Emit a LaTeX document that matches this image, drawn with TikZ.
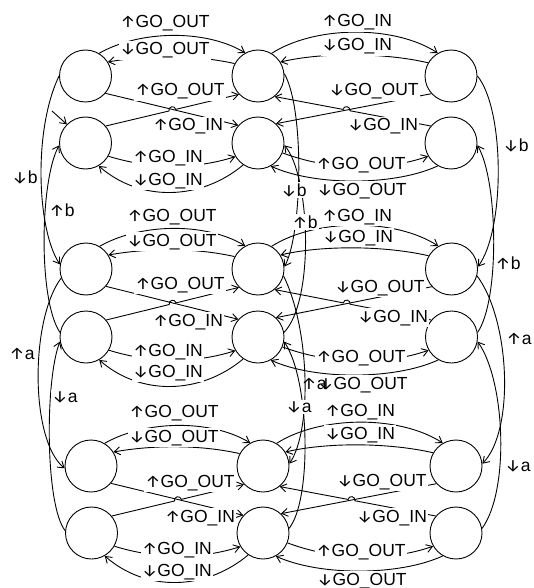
\documentclass[tikz,border=0pt]{standalone}
\usepackage{fontspec}
\setmainfont{Liberation Sans}
\newfontfamily\arrowfont{Fira Sans}
\newcommand\up{{\fontsize{17}{18}\arrowfont ↑}}
\newcommand\dn{{\fontsize{17}{18}\arrowfont ↓}}
\usetikzlibrary{arrows.meta,calc}
\newcommand\grpedges[6]{%
  \draw[arr] (#1.59) .. controls +(40,23) and +(-40,24) .. (#3.119);
  \draw[arr] (#3.152) .. controls +(-40,9) and +(40,7) .. (#1.32);
  \draw[arr] (#1.-41) -- (#4.138);
  \draw[arr] (#2.40) -- ($(#2.40)!0.5!(#3.-136)!3.5pt!(#2.40)$) arc[start angle=193.5,end angle=13.5,radius=3.5pt] -- (#3.-136);
  \draw[arr] (#2.-30) .. controls +(42,-13) and +(-41,-13) .. (#4.-149);
  \draw[arr] (#4.-124) .. controls +(-43,-36) and +(41,-36) .. (#2.-60);
  \draw[arr] (#3.59) .. controls +(44,28) and +(-43,28) .. (#5.120);
  \draw[arr] (#5.150) .. controls +(-43,10) and +(43,10) .. (#3.32);
  \draw[arr] (#5.-138) -- (#4.47);
  \draw[arr] (#6.140) -- ($(#6.140)!0.54!(#3.-51)!3.5pt!(#6.140)$) arc[start angle=-11,end angle=169,radius=3.5pt] -- (#3.-51);
  \draw[arr] (#4.-22) .. controls +(48,-18) and +(-43,-15) .. (#6.-150);
  \draw[arr] (#6.-120) .. controls +(-43,-20) and +(44,-20) .. (#4.-61);
}
\begin{document}
\begin{tikzpicture}[x=1pt,y=1pt,
  st/.style={circle,draw,line width=0.9pt,minimum size=52pt,inner sep=0pt},
  arr/.style={line width=0.9pt,-{Straight Barb[length=6pt,width=8pt]}},
  lb/.style={font=\fontsize{17.5}{20}\selectfont,fill=white,inner sep=1.5pt,anchor=base}]
\useasboundingbox[fill=white] (0,0) rectangle (533,-588);
% states
\node[st] (L1) at (85.5,-76) {};
\node[st] (L2) at (85.5,-143) {};
\node[st] (M1) at (258,-76) {};
\node[st] (M2) at (258,-143) {};
\node[st] (R1) at (451,-76) {};
\node[st] (R2) at (451,-143) {};
\node[st] (L3) at (86,-269) {};
\node[st] (L4) at (86,-337) {};
\node[st] (M3) at (258,-269) {};
\node[st] (M4) at (258,-337) {};
\node[st] (R3) at (451.5,-269) {};
\node[st] (R4) at (451.5,-337) {};
\node[st] (L5) at (91,-466) {};
\node[st] (L6) at (91.5,-533) {};
\node[st] (M5) at (263,-466) {};
\node[st] (M6) at (263,-533) {};
\node[st] (R5) at (456,-466) {};
\node[st] (R6) at (456,-533) {};
% initial
\coordinate (init) at (52,-111);
\draw[arr] (init) -- (L2.135);
% group edges
\grpedges{L1}{L2}{M1}{M2}{R1}{R2}
\grpedges{L3}{L4}{M3}{M4}{R3}{R4}
\grpedges{L5}{L6}{M5}{M6}{R5}{R6}
% vertical edges left
\draw[arr] (L1.180) .. controls (33,-130) and (37,-230) .. (L3.170);
\draw[arr] (L4.170) .. controls (38,-300) and (40,-180) .. (L2.185);
\draw[arr] (L3.200) .. controls (30,-320) and (30,-440) .. (L5.185);
\draw[arr] (L6.175) .. controls (45,-505) and (45,-380) .. (L4.190);
% vertical edges right
\draw[arr] (R1.0) .. controls (505,-110) and (505,-230) .. (R3.5);
\draw[arr] (R4.10) .. controls (500,-300) and (498,-180) .. (R2.-5);
\draw[arr] (R3.-15) .. controls (510,-320) and (515,-430) .. (R5.5);
\draw[arr] (R6.10) .. controls (510,-490) and (505,-380) .. (R4.-10);
% vertical edges middle
\draw[arr] (M1.5) .. controls (305,-110) and (302,-235) .. (M3.5);
\draw[arr] (M4.10) .. controls (315,-300) and (310,-175) .. (M2.-5);
\draw[arr] (M3.-15) .. controls (310,-330) and (312,-430) .. (M5.5);
\draw[arr] (M6.10) .. controls (312,-500) and (310,-380) .. (M4.-10);
% vertical labels
\node[lb] (v1) at (25,-183) {\dn b};
\node[lb] (v2) at (62,-216) {\up b};
\node[lb] (v3) at (22,-359) {\up a};
\node[lb] (v4) at (65,-402) {\dn a};
\node[lb] (v5) at (516,-152) {\dn b};
\node[lb] (v6) at (508,-269) {\up b};
\node[lb] (v7) at (519,-344) {\up a};
\node[lb] (v8) at (518,-471) {\dn a};
\node[lb] (v9) at (294,-196) {\dn b};
\node[lb] (v10) at (305,-228) {\up b};
\node[lb] (v12) at (299,-412) {\dn a};
% group 1 labels
\node[lb] (a1) at (165,-28) {\up GO\_OUT};
\node[lb] (a2) at (165,-55) {\dn GO\_OUT};
\node[lb] (a3) at (180,-96) {\up GO\_OUT};
\node[lb] (a4) at (188,-131) {\up GO\_IN};
\node[lb] (a5) at (168,-162) {\up GO\_IN};
\node[lb] (a6) at (168,-185) {\dn GO\_IN};
\node[lb] (a7) at (357,-27) {\up GO\_IN};
\node[lb] (a8) at (357,-51) {\dn GO\_IN};
\node[lb] (a9) at (374,-96) {\dn GO\_OUT};
\node[lb] (a10) at (383,-131) {\dn GO\_IN};
\node[lb] (a11) at (361,-169) {\up GO\_OUT};
\node[lb] (a12) at (362,-195) {\dn GO\_OUT};
% group 2 labels
\node[lb] (b1) at (172,-221) {\up GO\_OUT};
\node[lb] (b2) at (172,-246) {\dn GO\_OUT};
\node[lb] (b3) at (180,-289) {\up GO\_OUT};
\node[lb] (b4) at (188,-326) {\up GO\_IN};
\node[lb] (b5) at (168,-356) {\up GO\_IN};
\node[lb] (b6) at (168,-377) {\dn GO\_IN};
\node[lb] (b7) at (357,-221) {\up GO\_IN};
\node[lb] (b8) at (358,-242) {\dn GO\_IN};
\node[lb] (b9) at (380,-292) {\dn GO\_OUT};
\node[lb] (b10) at (393,-322) {\dn GO\_IN};
\node[lb] (b11) at (361,-362) {\up GO\_OUT};
\node[lb] (b12) at (363,-389) {\dn GO\_OUT};
% group 3 labels
\node[lb] (c1) at (174,-417) {\up GO\_OUT};
\node[lb] (c2) at (174,-442) {\dn GO\_OUT};
\node[lb] (c3) at (190,-487) {\up GO\_OUT};
\node[lb] (c4) at (200,-522) {\up GO\_IN};
\node[lb] (c5) at (177,-554) {\up GO\_IN};
\node[lb] (c6) at (177,-576) {\dn GO\_IN};
\node[lb] (c7) at (360,-416) {\up GO\_IN};
\node[lb] (c8) at (360,-439) {\dn GO\_IN};
\node[lb] (c9) at (382,-486) {\dn GO\_OUT};
\node[lb] (c10) at (392,-522) {\dn GO\_IN};
\node[lb] (c11) at (361,-556) {\up GO\_OUT};
\node[lb] (c12) at (362,-585) {\dn GO\_OUT};
% label drawn over the neighbouring one, as in the reference
\node[lb,fill=none] (v11) at (314,-389) {\up a};
\end{tikzpicture}
\end{document}
